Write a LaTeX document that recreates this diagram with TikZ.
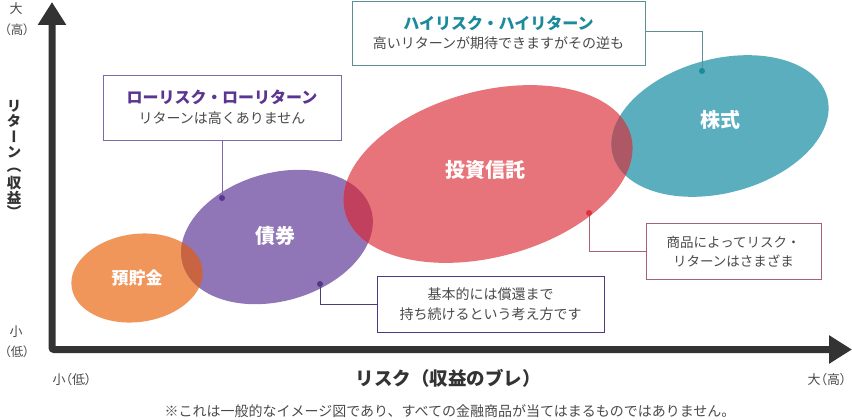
\documentclass[tikz,border=0pt]{standalone}
\usepackage{fontspec}
\setmainfont{Noto Sans CJK JP}
\newfontfamily\jpprop[RawFeature=+palt]{Noto Sans CJK JP}
\newfontfamily\jpvert[RawFeature=+vert]{Noto Sans CJK JP}
\usetikzlibrary{arrows.meta}

\definecolor{axisgray}{HTML}{333333}
\definecolor{textgray}{HTML}{4A4A4A}
\definecolor{depositc}{HTML}{F0965A}
\definecolor{bondc}{HTML}{9076B6}
\definecolor{fundc}{HTML}{E8747B}
\definecolor{stockc}{HTML}{5AAEBE}
\definecolor{depbondc}{HTML}{C86442}
\definecolor{bondfundc}{HTML}{C0405E}
\definecolor{fundstockc}{HTML}{AE5866}
\definecolor{lowc}{HTML}{5A3592}
\definecolor{lowedge}{HTML}{7E6AAA}
\definecolor{highc}{HTML}{1B8A9C}
\definecolor{highedge}{HTML}{5E8F98}
\definecolor{mixc}{HTML}{E0303C}
\definecolor{mixedge}{HTML}{A86272}
\definecolor{bondedge}{HTML}{4E3A82}

\tikzset{
  deposit/.style={rotate around={8:(137,278)}, insert path={(137,278) ellipse [x radius=66, y radius=44]}},
  bond/.style={rotate around={16:(277,237)}, insert path={(277,237) ellipse [x radius=98, y radius=64]}},
  fund/.style={rotate around={15:(488,174)}, insert path={(488,174) ellipse [x radius=148, y radius=83]}},
  stock/.style={rotate around={15:(720,126)}, insert path={(720,126) ellipse [x radius=111, y radius=67]}},
  elabel/.style={text=white, font=\bfseries\fontsize{20}{22}\selectfont, inner sep=0pt},
  box/.style={draw, line width=1pt, fill=white, inner sep=0pt},
  boxtitle/.style={font=\bfseries\fontsize{16}{18}\selectfont, inner sep=0pt},
  boxtext/.style={text=textgray, font=\fontsize{14}{16}\selectfont, inner sep=0pt},
  endlabel/.style={text=textgray, font=\jpprop\fontsize{13}{15}\selectfont, inner sep=0pt},
  dot/.style={circle, fill, inner sep=0pt, minimum size=6pt}
}

\begin{document}
\begin{tikzpicture}[x=1pt, y=-1pt]
		\useasboundingbox (0,0) rectangle (852,420);
		
		%axes
		\coordinate (ytip) at (52,2);
		\coordinate (xtip) at (852,349.5);
		\draw[line width=7pt, draw=axisgray, rounded corners=2pt,
			{Triangle[length=23pt,width=27pt]}-{Triangle[length=23pt,width=27pt]}] (ytip) |- (xtip);
		
		\node[endlabel] (yhigh) at (16,9){大};
		\node[endlabel, font=\jpprop\fontsize{12.5}{15}\selectfont] (yhighp) at (17,30){（高）};
		\node[endlabel] (ylow) at (16,332){小};
		\node[endlabel, font=\jpprop\fontsize{12.5}{15}\selectfont] (ylowp) at (17,352){（低）};
		\node[endlabel] (xlow) at (72,380){小（低）};
		\node[endlabel] (xhigh) at (827,380){大（高）};
		
		%return, written top to bottom
		\foreach \c/\y [count=\i] in {リ/106,タ/121,ー/137,ン/152,（/170,収/183,益/198,）/211}{
			\node[boxtext, text=axisgray, font=\jpvert\bfseries\fontsize{14.5}{17}\selectfont] (ret\i) at (14,\y){\c};
		}
		\node[boxtext, text=axisgray, font=\bfseries\fontsize{18.5}{20}\selectfont] (risk) at (448,378){リスク（収益のブレ）};
		\node[boxtext, font=\fontsize{14}{16}\selectfont] (note) at (450,411){※これは一般的なイメージ図であり、すべての金融商品が当てはまるものではありません。};
		
		%ellipses
		\fill[depositc, deposit];
		\fill[bondc, bond];
		\fill[fundc, fund];
		\fill[stockc, stock];
		\begin{scope}
			\clip[deposit];
			\fill[depbondc, bond];
		\end{scope}
		\begin{scope}
			\clip[bond];
			\fill[bondfundc, fund];
		\end{scope}
		\begin{scope}
			\clip[fund];
			\fill[fundstockc, stock];
		\end{scope}
		
		\node[elabel, font=\bfseries\fontsize{17}{19}\selectfont] (depositLabel) at (137,278){預貯金};
		\node[elabel] (bondLabel) at (275,236){債券};
		\node[elabel] (fundLabel) at (485,170){投資信託};
		\node[elabel] (stockLabel) at (720,120){株式};
		
		%low risk box
		\node[box, draw=lowedge, minimum width=238pt, minimum height=64pt] (lowBox) at (222,108){};
		\node[boxtitle, text=lowc] (lowTitle) at (222,97){ローリスク・ローリターン};
		\node[boxtext] (lowText) at (222,118){リターンは高くありません};
		\node[dot, lowc] (bondTop) at (222,198){};
		\draw[lowedge, line width=1pt] (lowBox.south) -- (bondTop);
		
		%high risk box
		\node[box, draw=highedge, minimum width=293pt, minimum height=64pt] (highBox) at (498.5,34){};
		\node[boxtitle, text=highc] (highTitle) at (498.5,23){ハイリスク・ハイリターン};
		\node[boxtext] (highText) at (498.5,43){高いリターンが期待できますがその逆も};
		\node[dot, highc] (stockTop) at (702,71){};
		\draw[highedge, line width=1pt] ([yshift=2pt]highBox.east) -| (stockTop);
		
		%fund box
		\node[box, draw=mixedge, minimum width=175pt, minimum height=56pt] (mixBox) at (733.5,251){};
		\node[boxtext, font=\fontsize{13.5}{15}\selectfont] (mixText1) at (733.5,242){商品によってリスク・};
		\node[boxtext, font=\fontsize{13.5}{15}\selectfont] (mixText2) at (733.5,261){リターンはさまざま};
		\node[dot, mixc] (fundDot) at (589,213){};
		\draw[mixedge, line width=1pt] (fundDot) |- (mixBox.west);
		
		%bond box
		\node[box, draw=bondedge, minimum width=227pt, minimum height=56pt] (bondBox) at (490.5,304){};
		\node[boxtext] (bondText1) at (490.5,294){基本的には償還まで};
		\node[boxtext] (bondText2) at (490.5,314){持ち続けるという考え方です};
		\node[dot, bondedge] (bondLow) at (320,284){};
		\draw[bondedge, line width=1pt] (bondLow) |- (bondBox.west);
		
		\end{tikzpicture}
\end{document}
